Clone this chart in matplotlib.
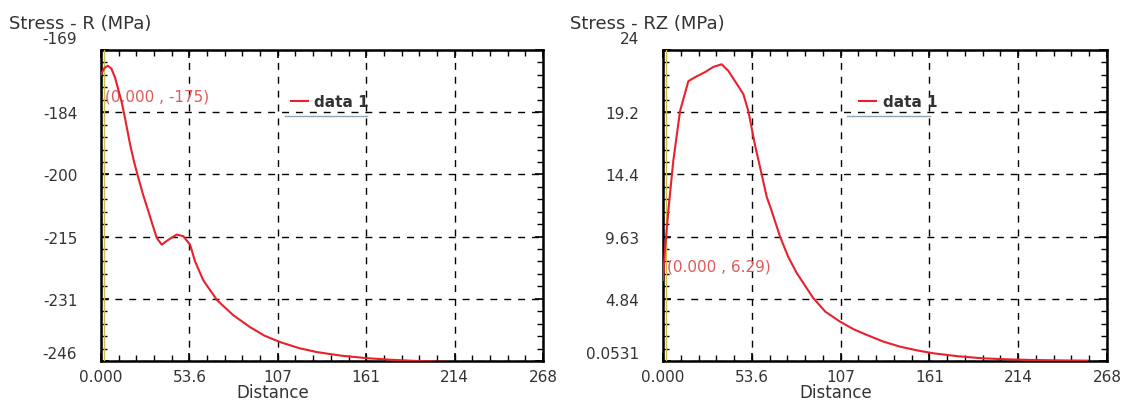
import numpy as np
import matplotlib.pyplot as plt
from matplotlib.ticker import AutoMinorLocator

# Stress - R along the path
dist_r = [0, 2.0, 4.1, 6.3, 8.5, 10.5, 12.6, 15.0, 17.6, 20.0, 22.6, 25.5, 28.7,
          31.5, 33.8, 36.8, 40.8, 45.9, 49.9, 54.0, 57.0, 62.0, 70.3, 80.0,
          90.3, 99.0, 108.5, 120.0, 131.0, 146.0, 161.3, 176.0, 191.6, 207.0, 222.0]
stress_r = [-175.0, -173.5, -172.9, -173.6, -175.8, -178.8, -182.0, -186.8, -192.3,
            -196.6, -200.6, -204.8, -208.9, -212.6, -215.5, -217.2, -216.0, -214.7,
            -215.1, -217.2, -221.3, -226.0, -230.9, -234.6, -237.6, -239.7, -241.3,
            -242.8, -243.8, -244.7, -245.3, -245.7, -246.0, -246.2, -246.3]

# Stress - RZ along the path
dist_rz = [0, 1.2, 3.2, 6.2, 10.3, 15.3, 19.3, 25.4, 30.4, 35.4, 39.4, 44.5, 48.5,
           51.5, 55.5, 59.6, 62.6, 65.6, 70.6, 75.5, 80.7, 90.7, 98.0, 106.8, 115.0,
           123.0, 133.0, 143.0, 153.0, 163.0, 178.0, 193.0, 208.0, 223.0, 240.0, 256.0]
stress_rz = [6.29, 8.6, 11.6, 15.45, 19.3, 21.6, 21.9, 22.3, 22.7, 22.9, 22.4, 21.4,
             20.6, 19.3, 16.7, 14.4, 12.7, 11.6, 9.65, 8.1, 6.83, 4.9, 3.85, 3.09,
             2.5, 2.06, 1.55, 1.16, 0.88, 0.65, 0.42, 0.26, 0.18, 0.13, 0.10, 0.08]

x_ticks = [0, 53.6, 107.2, 160.8, 214.4, 268]
x_labels = ['0.000', '53.6', '107', '161', '214', '268']
r_ticks = [-246, -230.6, -215.2, -199.8, -184.4, -169]
r_labels = ['-246', '-231', '-215', '-200', '-184', '-169']
rz_ticks = [0.0531, 4.842, 9.632, 14.42, 19.21, 24]
rz_labels = ['0.0531', '4.84', '9.63', '14.4', '19.2', '24']

LINE = '#e8212b'
TXT = '#333333'

fig = plt.figure(figsize=(11.3, 4.06), dpi=100)
ax1 = fig.add_axes([101 / 1130, 44 / 406, 442 / 1130, 311 / 406])
ax2 = fig.add_axes([663 / 1130, 44 / 406, 444 / 1130, 311 / 406])


def style(ax, yt, yl, title, title_x, note, note_y):
    ax.set_xlim(0, 268)
    ax.set_ylim(yt[0], yt[-1])
    ax.set_xticks(x_ticks)
    ax.set_xticklabels(x_labels)
    ax.set_yticks(yt)
    # end labels sit a bit off the axis ends, drawn separately
    ax.set_yticklabels([''] + yl[1:-1] + [''])
    ax.xaxis.set_minor_locator(AutoMinorLocator(5))
    ax.yaxis.set_minor_locator(AutoMinorLocator(5))
    ax.tick_params(which='both', direction='in', top=True, right=True,
                   colors='black', labelcolor=TXT, labelsize=11)
    ax.tick_params(which='major', length=6, width=1.2)
    ax.tick_params(which='minor', length=4, width=1)
    ax.tick_params(axis='y', pad=17)
    ax.tick_params(axis='x', pad=6)
    for s in ax.spines.values():
        s.set_linewidth(1.8)
    ax.grid(True, which='major', color='black', linestyle=(0, (5, 5)), linewidth=1)
    ax.annotate(yl[-1], xy=(0, 1), xycoords='axes fraction', xytext=(-24, 12),
                textcoords='offset pixels', ha='right', va='center',
                fontsize=11, color=TXT)
    ax.annotate(yl[0], xy=(0, 0), xycoords='axes fraction', xytext=(-24, 7),
                textcoords='offset pixels', ha='right', va='center',
                fontsize=11, color=TXT)
    ax.set_xlabel('Distance', fontsize=12, color=TXT)
    ax.xaxis.set_label_coords(0.389, -0.072)
    fig.text(title_x / 1130, 1 - 24 / 406, title, fontsize=13, color=TXT, va='center')
    ax.text(0.009, note_y, note, transform=ax.transAxes, color='#e05a5a',
            fontsize=11, va='center')
    ax.plot([0.006, 0.006], [0, 1], transform=ax.transAxes, color='#cdbd45',
            lw=1.0, zorder=3)


ax1.plot(dist_r, stress_r, color=LINE, lw=1.5, label='data 1', zorder=4)
ax2.plot(dist_rz, stress_rz, color=LINE, lw=1.5, label='data 1', zorder=4)

style(ax1, r_ticks, r_labels, 'Stress - R (MPa)', 9, '(0.000 , -175)', 0.852)
style(ax2, rz_ticks, rz_labels, 'Stress - RZ (MPa)', 570, '(0.000 , 6.29)', 0.305)

for ax, x0, u0, u1 in [(ax1, 0.405, 0.416, 0.602), (ax2, 0.418, 0.414, 0.601)]:
    leg = ax.legend(loc='center left', bbox_to_anchor=(x0, 0.833), frameon=False,
                    handlelength=1.1, handletextpad=0.45, borderpad=0.2,
                    prop={'weight': 'bold', 'size': 11})
    for t in leg.get_texts():
        t.set_color(TXT)
    ax.plot([u0, u1], [0.788, 0.788], transform=ax.transAxes, color='#8ea4b4', lw=1)

fig.savefig('out.png', dpi=100)
